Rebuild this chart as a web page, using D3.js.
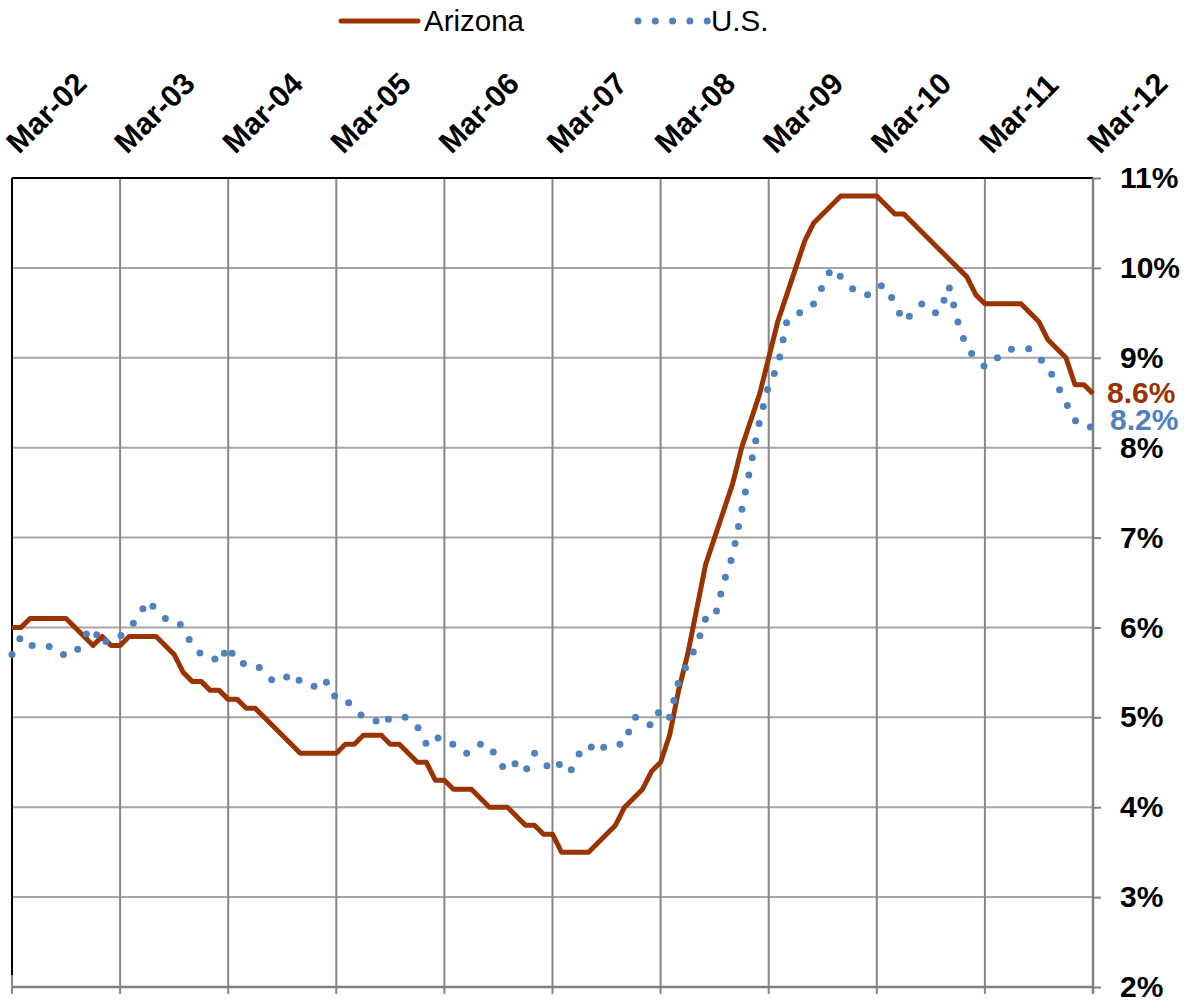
<!DOCTYPE html>
<html lang="en">
<head>
<meta charset="UTF-8">
<title>Arizona vs U.S. unemployment</title>
<script src="https://d3js.org/d3.v7.min.js"></script>
<style>
    body { margin: 0; background: #fff; }
    svg { display: block; font-family: "Liberation Sans", Arial, sans-serif; }
</style>
</head>
<body>
<svg width="1191" height="1008"></svg>
<script>
// monthly, Mar-02 .. Mar-12
const yearLabels = ["Mar-02", "Mar-03", "Mar-04", "Mar-05", "Mar-06", "Mar-07",
                    "Mar-08", "Mar-09", "Mar-10", "Mar-11", "Mar-12"];
const pctTicks = [2, 3, 4, 5, 6, 7, 8, 9, 10, 11];

const arizona = [
    6.0, 6.0, 6.1, 6.1, 6.1, 6.1, 6.1, 6.0, 5.9, 5.8,
    5.9, 5.8, 5.8, 5.9, 5.9, 5.9, 5.9, 5.8, 5.7, 5.5,
    5.4, 5.4, 5.3, 5.3, 5.2, 5.2, 5.1, 5.1, 5.0, 4.9,
    4.8, 4.7, 4.6, 4.6, 4.6, 4.6, 4.6, 4.7, 4.7, 4.8,
    4.8, 4.8, 4.7, 4.7, 4.6, 4.5, 4.5, 4.3, 4.3, 4.2,
    4.2, 4.2, 4.1, 4.0, 4.0, 4.0, 3.9, 3.8, 3.8, 3.7,
    3.7, 3.5, 3.5, 3.5, 3.5, 3.6, 3.7, 3.8, 4.0, 4.1,
    4.2, 4.4, 4.5, 4.8, 5.3, 5.7, 6.2, 6.7, 7.0, 7.3,
    7.6, 8.0, 8.3, 8.6, 9.0, 9.4, 9.7, 10.0, 10.3, 10.5,
    10.6, 10.7, 10.8, 10.8, 10.8, 10.8, 10.8, 10.7, 10.6, 10.6,
    10.5, 10.4, 10.3, 10.2, 10.1, 10.0, 9.9, 9.7, 9.6, 9.6,
    9.6, 9.6, 9.6, 9.5, 9.4, 9.2, 9.1, 9.0, 8.7, 8.7,
    8.6
];

const us = [
    5.7, 5.9, 5.8, 5.8, 5.8, 5.7, 5.7, 5.7, 5.9, 6.0,
    5.8, 5.9, 5.9, 6.0, 6.1, 6.3, 6.2, 6.1, 6.1, 6.0,
    5.8, 5.7, 5.7, 5.6, 5.8, 5.6, 5.6, 5.6, 5.5, 5.4,
    5.4, 5.5, 5.4, 5.4, 5.3, 5.4, 5.2, 5.2, 5.1, 5.0,
    5.0, 4.9, 5.0, 5.0, 5.0, 4.9, 4.7, 4.8, 4.7, 4.7,
    4.6, 4.6, 4.7, 4.7, 4.5, 4.4, 4.5, 4.4, 4.6, 4.5,
    4.4, 4.5, 4.4, 4.6, 4.7, 4.6, 4.7, 4.7, 4.7, 5.0,
    5.0, 4.9, 5.1, 5.0, 5.4, 5.6, 5.8, 6.1, 6.1, 6.5,
    6.8, 7.3, 7.8, 8.3, 8.7, 8.9, 9.4, 9.5, 9.5, 9.6,
    9.8, 10.0, 9.9, 9.8, 9.7, 9.7, 9.8, 9.8, 9.6, 9.4,
    9.5, 9.6, 9.5, 9.5, 9.8, 9.4, 9.1, 9.0, 8.9, 9.0,
    9.0, 9.1, 9.1, 9.1, 9.0, 8.9, 8.7, 8.5, 8.3, 8.3,
    8.2
];

const azColor = "#993300";
const usColor = "#4f81bd";

const svg = d3.select("svg");
const plotLeft = 12, plotRight = 1093, plotTop = 178, plotBottom = 987;

const x = d3.scaleLinear().domain([0, 120]).range([plotLeft, plotRight]);
const y = d3.scaleLinear().domain([2, 11]).range([plotBottom, plotTop]);

// horizontal gridlines
svg.append("g").selectAll("line")
    .data(pctTicks.filter(v => v > 2 && v < 11))
    .join("line")
    .attr("x1", plotLeft).attr("x2", plotRight)
    .attr("y1", d => y(d)).attr("y2", d => y(d))
    .attr("stroke", "#a6a6a6").attr("stroke-width", 2);

// vertical gridlines (they run on below the axis as tick marks)
svg.append("g").selectAll("line")
    .data(d3.range(1, 10))
    .join("line")
    .attr("x1", d => x(d * 12)).attr("x2", d => x(d * 12))
    .attr("y1", plotTop).attr("y2", plotBottom + 7)
    .attr("stroke", "#878787").attr("stroke-width", 2);

// bottom axis line + tick at the left end
svg.append("line")
    .attr("x1", plotLeft).attr("x2", plotRight)
    .attr("y1", plotBottom).attr("y2", plotBottom)
    .attr("stroke", "#808080").attr("stroke-width", 2.5);
svg.append("line")
    .attr("x1", plotLeft).attr("x2", plotLeft)
    .attr("y1", plotBottom - 12).attr("y2", plotBottom + 7)
    .attr("stroke", "#878787").attr("stroke-width", 2);

// plot border, top and left
svg.append("line")
    .attr("x1", plotLeft).attr("x2", plotRight)
    .attr("y1", plotTop).attr("y2", plotTop)
    .attr("stroke", "#000").attr("stroke-width", 2);
svg.append("line")
    .attr("x1", plotLeft).attr("x2", plotLeft)
    .attr("y1", plotTop).attr("y2", plotBottom - 12)
    .attr("stroke", "#000").attr("stroke-width", 2);

// right value axis
const yAxis = svg.append("g")
    .attr("transform", `translate(${plotRight},0)`)
    .call(d3.axisRight(y).tickValues(pctTicks).tickSize(8).tickPadding(19)
        .tickFormat(d => d + "%"));
yAxis.select(".domain")
    .attr("d", `M0,${plotTop}V${plotBottom + 7}`)
    .attr("stroke", "#808080").attr("stroke-width", 2.5);
yAxis.selectAll(".tick line").attr("stroke", "#808080").attr("stroke-width", 2);
yAxis.selectAll(".tick text")
    .attr("fill", "#000")
    .style("font-size", "30px")
    .style("font-weight", "bold");

// date labels along the top, slanted
svg.append("g").selectAll("text")
    .data(yearLabels)
    .join("text")
    .attr("transform", (d, i) => `translate(${x(i * 12) + 7},155) rotate(-45)`)
    .attr("font-size", 30.5)
    .attr("font-weight", "bold")
    .text(d => d);

// series
const line = d3.line().x((d, i) => x(i)).y(d => y(d));

svg.append("path")
    .datum(arizona)
    .attr("fill", "none")
    .attr("stroke", azColor)
    .attr("stroke-width", 5)
    .attr("stroke-linejoin", "round")
    .attr("d", line);

svg.append("path")
    .datum(us)
    .attr("fill", "none")
    .attr("stroke", usColor)
    .attr("stroke-width", 7)
    .attr("stroke-linecap", "round")
    .attr("stroke-dasharray", "0,17.5")
    .attr("d", line);

// end values
svg.append("text")
    .attr("x", 1107).attr("y", 403)
    .attr("fill", azColor)
    .attr("font-size", 30).attr("font-weight", "bold")
    .text(arizona[arizona.length - 1].toFixed(1) + "%");
svg.append("text")
    .attr("x", 1110).attr("y", 430)
    .attr("fill", usColor)
    .attr("font-size", 30).attr("font-weight", "bold")
    .text(us[us.length - 1].toFixed(1) + "%");

// legend
const legend = svg.append("g");
legend.append("line")
    .attr("x1", 341).attr("x2", 418).attr("y1", 21).attr("y2", 21)
    .attr("stroke", azColor).attr("stroke-width", 5).attr("stroke-linecap", "round");
legend.append("text")
    .attr("x", 424).attr("y", 31)
    .attr("font-size", 29.5)
    .text("Arizona");
legend.append("line")
    .attr("x1", 638).attr("x2", 708).attr("y1", 21).attr("y2", 21)
    .attr("stroke", usColor).attr("stroke-width", 7)
    .attr("stroke-linecap", "round").attr("stroke-dasharray", "0,17.3");
legend.append("text")
    .attr("x", 711).attr("y", 31)
    .attr("font-size", 29.5)
    .text("U.S.");
</script>
</body>
</html>
